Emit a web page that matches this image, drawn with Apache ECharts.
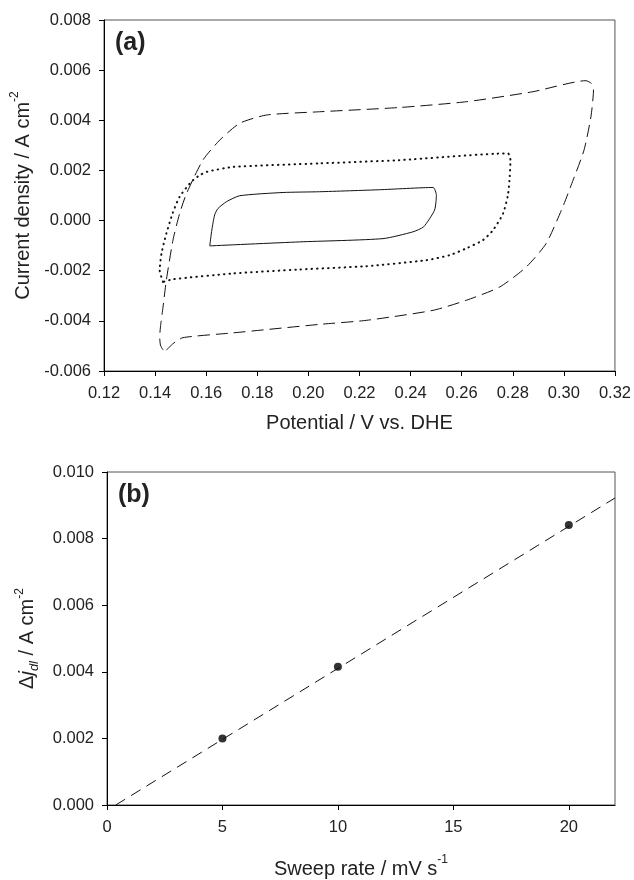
<!DOCTYPE html>
<html>
<head>
<meta charset="utf-8">
<script src="https://cdn.jsdelivr.net/npm/echarts@6/dist/echarts.min.js"></script>
<style>
  html, body { margin: 0; padding: 0; background: #fff; }
  #main { width: 634px; height: 880px; }
</style>
</head>
<body>
<div id="main"></div>
<script>
// (a) cyclic voltammograms, [potential V, current density A cm-2]
var cvSolid = [
  [0.1614, -0.00101], [0.1622, -0.00038], [0.1633, 0.00022], [0.1646, 0.00048],
  [0.1679, 0.00075], [0.1731, 0.00099], [0.1901, 0.00112], [0.2044, 0.00115],
  [0.2279, 0.00123], [0.2488, 0.00132], [0.2501, 0.00101], [0.2494, 0.00042],
  [0.2451, -0.00025], [0.2409, -0.00045], [0.2292, -0.00072], [0.1966, -0.00085],
  [0.1614, -0.00101]
];
var cvDotted = [
  [0.1431, -0.00245], [0.1418, -0.00198], [0.1425, -0.00131], [0.1444, -0.00052],
  [0.1469, 0.00030], [0.1496, 0.00095], [0.1542, 0.00155], [0.1575, 0.00181],
  [0.1601, 0.00194], [0.1705, 0.00214], [0.2044, 0.00228], [0.2355, 0.00241],
  [0.2781, 0.00268], [0.2791, 0.00241], [0.2788, 0.00174], [0.2781, 0.00101],
  [0.2762, 0.00028], [0.2723, -0.00038], [0.2683, -0.00078], [0.2618, -0.00111],
  [0.2553, -0.00138], [0.2462, -0.00158], [0.2227, -0.00182], [0.1966, -0.00195],
  [0.1705, -0.00211], [0.1470, -0.00234], [0.1431, -0.00245]
];
var cvDashed = [
  [0.1444, -0.00517], [0.1470, -0.00491], [0.1509, -0.00467], [0.1705, -0.00448],
  [0.2044, -0.00414], [0.2227, -0.00398], [0.2488, -0.00358], [0.2618, -0.00318],
  [0.2749, -0.00265], [0.2853, -0.00185], [0.2931, -0.00091], [0.2996, 0.00055],
  [0.3036, 0.00161], [0.3079, 0.00281], [0.3106, 0.00414], [0.3116, 0.00521],
  [0.3108, 0.00547], [0.3086, 0.00558], [0.2879, 0.00514], [0.2618, 0.00474],
  [0.2357, 0.00451], [0.2044, 0.00434], [0.1836, 0.00421], [0.1731, 0.00388],
  [0.1653, 0.00321], [0.1587, 0.00241], [0.1523, 0.00108], [0.1496, 0.00028],
  [0.1470, -0.00078], [0.1444, -0.00238], [0.1431, -0.00345], [0.1421, -0.00424],
  [0.1418, -0.00464], [0.1421, -0.00497], [0.1431, -0.00515], [0.1444, -0.00517]
];

// (b) double-layer current difference vs sweep rate
var sweepRates = [5, 10, 20];
var deltaJ = [0.00200, 0.00415, 0.00841];
var fitLine = [[0.38, 0], [22, 0.00922]];

var font = 'Liberation Sans';
var txt = '#222';

var myChart = echarts.init(document.getElementById('main'));
var option = {
    backgroundColor: '#fff',
    animation: false,
    title: [{
        text: '(a)', left: 110, top: 26,
        textStyle: { fontFamily: font, fontSize: 25, fontWeight: 'bold', color: txt }
    }, {
        text: '(b)', left: 113, top: 478,
        textStyle: { fontFamily: font, fontSize: 25, fontWeight: 'bold', color: txt }
    }],
    grid: [
        { left: 104, top: 20, width: 511, height: 351, show: true, borderColor: '#555', borderWidth: 1 },
        { left: 107, top: 472, width: 508, height: 342, show: true, borderColor: '#555', borderWidth: 1 }
    ],
    xAxis: [{
        type: 'value', gridIndex: 0, min: 0.12, max: 0.32, interval: 0.02,
        name: 'Potential / V vs. DHE', nameLocation: 'middle', nameGap: 42,
        nameTextStyle: { fontFamily: font, fontSize: 20, color: txt },
        splitLine: { show: false },
        axisLine: { onZero: false, lineStyle: { color: '#000', width: 1 } },
        axisTick: { length: 5, lineStyle: { color: '#000' } },
        axisLabel: {
            fontFamily: font, fontSize: 16.5, color: txt, margin: 14,
            formatter: function (v) { return v.toFixed(2); }
        }
    }, {
        type: 'value', gridIndex: 1, min: 0, max: 22, interval: 5,
        name: '{a|Sweep rate / mV s}{sup|-1}', nameLocation: 'middle', nameGap: 49,
        nameTextStyle: {
            fontFamily: font, fontSize: 20, color: txt,
            rich: {
                a: { fontFamily: font, fontSize: 20, color: txt, lineHeight: 25, verticalAlign: 'bottom' },
                sup: { fontFamily: font, fontSize: 12, color: txt, lineHeight: 12, verticalAlign: 'top' }
            }
        },
        splitLine: { show: false },
        axisLine: { onZero: false, lineStyle: { color: '#000', width: 1 } },
        axisTick: { length: 5, lineStyle: { color: '#000' } },
        axisLabel: {
            fontFamily: font, fontSize: 16.5, color: txt, margin: 14, showMaxLabel: false,
            formatter: function (v) { return v === 22 ? '' : String(v); }
        }
    }],
    yAxis: [{
        type: 'value', gridIndex: 0, min: -0.006, max: 0.008, interval: 0.002,
        name: '{a|Current density / A cm}{sup|-2}', nameLocation: 'middle', nameGap: 66,
        nameTextStyle: {
            fontFamily: font, fontSize: 20, color: txt,
            rich: {
                a: { fontFamily: font, fontSize: 20, color: txt, lineHeight: 25, verticalAlign: 'bottom' },
                sup: { fontFamily: font, fontSize: 12, color: txt, lineHeight: 12, verticalAlign: 'top' }
            }
        },
        splitLine: { show: false },
        axisLine: { onZero: false, lineStyle: { color: '#000', width: 1 } },
        axisTick: { length: 5, lineStyle: { color: '#000' } },
        axisLabel: {
            fontFamily: font, fontSize: 16.5, color: txt, margin: 13,
            formatter: function (v) { return v.toFixed(3); }
        }
    }, {
        type: 'value', gridIndex: 1, min: 0, max: 0.010, interval: 0.002,
        name: '{a|Δ}{j|j}{sub|dl}{a| / A cm}{sup|-2}', nameLocation: 'middle', nameGap: 66,
        nameTextStyle: {
            fontFamily: font, fontSize: 20, color: txt,
            rich: {
                a: { fontFamily: font, fontSize: 20, color: txt, lineHeight: 27, verticalAlign: 'middle' },
                j: { fontFamily: font, fontSize: 20, fontStyle: 'italic', color: txt, lineHeight: 27, verticalAlign: 'middle' },
                sub: { fontFamily: font, fontSize: 13, fontStyle: 'italic', color: txt, lineHeight: 13, verticalAlign: 'bottom' },
                sup: { fontFamily: font, fontSize: 12, color: txt, lineHeight: 12, verticalAlign: 'top' }
            }
        },
        splitLine: { show: false },
        axisLine: { onZero: false, lineStyle: { color: '#000', width: 1 } },
        axisTick: { length: 5, lineStyle: { color: '#000' } },
        axisLabel: {
            fontFamily: font, fontSize: 16.5, color: txt, margin: 13,
            formatter: function (v) { return v.toFixed(3); }
        }
    }],
    series: [{
        type: 'line', xAxisIndex: 0, yAxisIndex: 0, data: cvSolid,
        showSymbol: false, smooth: 0.2,
        lineStyle: { color: '#111', width: 1 }
    }, {
        type: 'line', xAxisIndex: 0, yAxisIndex: 0, data: cvDotted,
        showSymbol: false, smooth: 0.2,
        lineStyle: { color: '#111', width: 2, type: [0.5, 5], cap: 'round' }
    }, {
        type: 'line', xAxisIndex: 0, yAxisIndex: 0, data: cvDashed,
        showSymbol: false, smooth: 0.2,
        lineStyle: { color: '#111', width: 1, type: [12, 6] }
    }, {
        type: 'line', xAxisIndex: 1, yAxisIndex: 1, data: fitLine,
        showSymbol: false,
        lineStyle: { color: '#111', width: 1, type: [11, 7] }
    }, {
        type: 'scatter', xAxisIndex: 1, yAxisIndex: 1,
        data: sweepRates.map(function (r, i) { return [r, deltaJ[i]]; }),
        symbolSize: 8,
        itemStyle: { color: '#000' }
    }]
};
myChart.setOption(option);
</script>
</body>
</html>
